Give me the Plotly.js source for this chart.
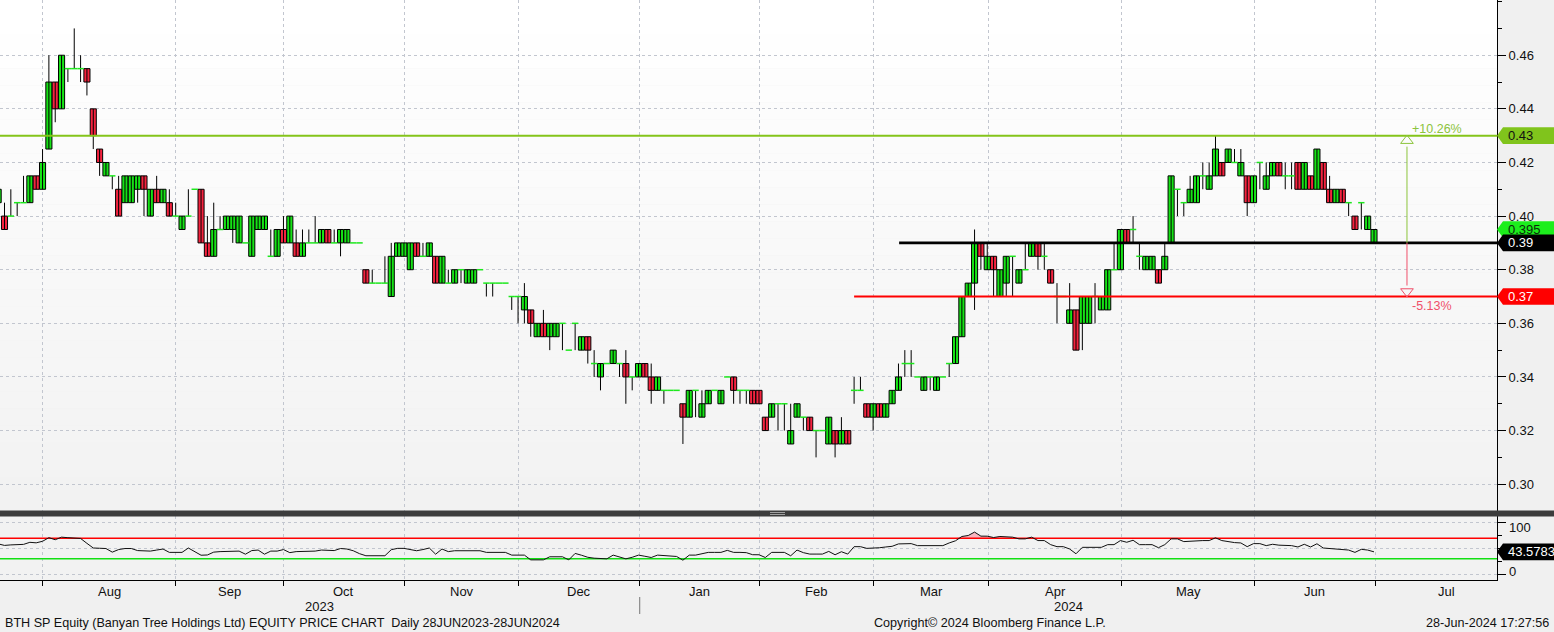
<!DOCTYPE html>
<html><head><meta charset="utf-8">
<script src="https://cdn.plot.ly/plotly-3.0.1.min.js"></script>
<style>html,body{margin:0;padding:0;background:#f0f0f0;overflow:hidden}#chart{width:1554px;height:632px}</style>
</head><body><div id="chart"></div>
<script>
// ---- data (index -1 .. 216, one per trading day) ----
const firstIndex = -1;
const openP = [
.405,.40,.40,.405,.405,.405,.415,.41,.425,.45,
.44,.455,.455,.455,.455,.44,.425,.415,.415,.41,
.405,.405,.41,.415,.40,.41,.405,.405,.40,.395,
.40,.41,.41,.39,.385,.395,.395,.395,.39,.39,
.385,.395,.395,.385,.385,.395,.39,.39,.385,.39,
.39,.39,.395,.39,.39,.39,.39,.39,.38,.375,
.375,.375,.37,.385,.385,.38,.39,.385,.385,.385,
.375,.375,.375,.38,.375,.375,.38,.375,.375,.375,
.375,.37,.37,.365,.365,.355,.36,.355,.355,.36,
.35,.36,.35,.355,.345,.34,.345,.345,.345,.345,
.34,.34,.345,.34,.335,.335,.335,.335,.33,.325,
.335,.325,.33,.335,.33,.34,.34,.335,.335,.335,
.335,.325,.325,.33,.33,.315,.325,.325,.325,.32,
.32,.315,.32,.315,.32,.335,.335,.33,.325,.33,
.325,.33,.335,.345,.345,.34,.335,.34,.335,.34,
.345,.345,.355,.37,.375,.39,.38,.385,.37,.375,
.385,.375,.38,.385,.39,.385,.38,.37,.37,.36,
.365,.36,.36,.37,.365,.365,.38,.38,.395,.395,
.385,.38,.38,.38,.38,.39,.41,.405,.405,.405,
.415,.41,.415,.42,.42,.42,.415,.415,.405,.42,
.41,.415,.42,.415,.415,.42,.41,.415,.41,.42,
.41,.405,.41,.405,.40,.405,.395,.39];
const highP = [
.41,.405,.41,.405,.415,.415,.415,.425,.46,.45,
.46,.455,.47,.46,.455,.44,.425,.42,.415,.415,
.415,.415,.415,.415,.41,.415,.41,.41,.405,.40,
.41,.41,.41,.40,.405,.40,.40,.40,.40,.39,
.40,.40,.40,.395,.395,.40,.40,.395,.395,.395,
.40,.395,.395,.395,.395,.395,.39,.39,.38,.38,
.375,.385,.39,.39,.39,.39,.39,.39,.39,.385,
.385,.38,.38,.38,.38,.38,.38,.375,.375,.375,
.375,.37,.37,.375,.365,.36,.365,.36,.36,.36,
.35,.36,.355,.355,.35,.345,.345,.35,.345,.35,
.34,.345,.345,.345,.34,.335,.335,.335,.33,.335,
.335,.335,.335,.335,.335,.34,.34,.335,.335,.335,
.335,.325,.33,.33,.33,.33,.33,.325,.325,.32,
.32,.325,.32,.325,.32,.34,.34,.33,.33,.33,
.33,.335,.345,.35,.35,.34,.34,.34,.34,.34,
.345,.355,.37,.375,.395,.39,.39,.385,.38,.385,
.385,.38,.39,.39,.39,.39,.38,.375,.37,.375,
.365,.37,.37,.375,.37,.38,.39,.395,.395,.40,
.39,.385,.385,.38,.39,.415,.41,.405,.415,.415,
.42,.42,.43,.42,.425,.425,.425,.415,.415,.42,
.42,.42,.42,.42,.42,.42,.42,.415,.425,.42,
.415,.41,.41,.405,.40,.405,.40,.395];
const lowP = [
.405,.395,.40,.40,.405,.405,.41,.41,.425,.435,
.44,.45,.455,.45,.445,.425,.415,.415,.41,.40,
.405,.405,.405,.40,.40,.405,.405,.40,.40,.395,
.40,.41,.39,.385,.385,.395,.395,.39,.39,.39,
.385,.395,.395,.385,.385,.39,.39,.385,.385,.39,
.39,.39,.39,.39,.385,.39,.39,.39,.375,.375,
.375,.375,.37,.385,.385,.38,.385,.385,.385,.375,
.375,.375,.375,.375,.375,.375,.38,.37,.37,.375,
.375,.365,.36,.36,.355,.355,.355,.35,.355,.35,
.35,.35,.35,.345,.34,.335,.345,.345,.34,.33,
.335,.34,.34,.33,.335,.33,.335,.335,.315,.325,
.325,.325,.33,.335,.33,.34,.33,.33,.33,.33,
.33,.32,.325,.32,.32,.315,.325,.32,.32,.31,
.32,.315,.31,.315,.315,.33,.335,.325,.32,.325,
.325,.33,.335,.34,.34,.34,.335,.335,.335,.34,
.34,.345,.355,.37,.365,.38,.38,.37,.37,.37,
.37,.375,.38,.385,.38,.38,.375,.36,.37,.36,
.35,.35,.36,.36,.365,.365,.38,.38,.39,.39,
.38,.38,.38,.375,.38,.39,.40,.40,.405,.405,
.41,.41,.415,.415,.42,.42,.415,.40,.405,.41,
.41,.415,.415,.41,.41,.41,.41,.41,.41,.41,
.405,.405,.405,.40,.395,.395,.395,.39];
const closeP = [
.41,.395,.40,.405,.405,.415,.41,.42,.45,.44,
.46,.455,.455,.455,.45,.43,.42,.42,.415,.40,
.415,.415,.415,.41,.41,.405,.41,.40,.40,.40,
.40,.41,.39,.385,.395,.395,.40,.40,.40,.39,
.40,.40,.40,.385,.395,.39,.40,.385,.39,.39,
.39,.395,.39,.39,.395,.395,.39,.39,.375,.375,
.375,.375,.385,.39,.39,.39,.385,.385,.39,.375,
.385,.375,.38,.38,.38,.38,.38,.375,.375,.375,
.375,.37,.37,.37,.36,.36,.355,.36,.36,.36,
.35,.36,.355,.35,.345,.345,.345,.35,.345,.34,
.34,.345,.34,.335,.34,.335,.335,.335,.325,.335,
.335,.33,.335,.335,.335,.34,.335,.335,.335,.33,
.33,.32,.33,.33,.33,.32,.33,.325,.32,.32,
.32,.325,.315,.32,.315,.335,.335,.325,.33,.325,
.33,.335,.34,.345,.345,.34,.34,.34,.34,.34,
.345,.355,.37,.375,.39,.385,.385,.38,.38,.385,
.385,.38,.38,.39,.385,.385,.375,.37,.37,.365,
.35,.37,.37,.37,.37,.38,.38,.395,.39,.395,
.385,.385,.385,.375,.385,.415,.41,.405,.41,.415,
.415,.415,.425,.415,.425,.42,.42,.405,.415,.42,
.415,.42,.415,.415,.415,.41,.42,.41,.425,.41,
.405,.41,.405,.405,.395,.405,.40,.395];
const rsi = [
59,56,57,57.5,58,62,61,64,71,67,
72,71,70,69.5,60,51,50.5,50,43,48,
50,50,46,45.5,45,47,49,42.5,42.5,42.5,
51,44,37,37.5,43,44,44,44,45,39,
46,47,39,45,45,48,42,44,44.5,44.5,
45,47,46,46,50,49,45.7,40,36,36,
36,36,47.7,50.3,50.3,48,45.7,48,51,39,
49,44,45.7,45.7,45.7,45.7,45.7,42.5,42.5,42.5,
42.5,37.2,37.2,37.2,28,28,28,34,34,34,
28,40.5,37,33,31.3,30.5,30,37.2,33,30,
33,37.2,35,32.6,37.2,36,35,34.6,27.4,37.2,
37.2,40,42.5,42.5,42.5,46.4,42.5,42.5,42,38,
37.9,32.6,42.5,42.5,42.5,35.9,47,42,39.2,39.2,
39.2,44.4,37.9,43.8,39.2,53.6,53.6,50.3,50.3,51.5,
53,54.3,58.9,59.2,59.5,55.6,55.6,55.6,55.6,55.6,
60.8,65,73.3,75.2,81.8,74,73.9,71.3,73.3,73,
72,68.7,68.7,72,65.4,65.4,57.5,53.6,53.6,49,
39.8,52.3,52.3,52.3,52.3,57.5,57.5,65.4,62.1,66,
57.5,57.5,57.5,51.6,57.5,68.7,68.7,63.4,64.5,65.4,
65.4,65.4,70.7,65.4,63,61.5,60.8,53.6,59.5,59.5,
55.6,58.2,56.5,55.6,55.6,53,58.2,53,59.2,51,
50.3,48.5,47.7,47,42.5,48.4,47,43.5783];

const monthTicks  = [6.03,27,43.97,63.06,81.1,100.19,119.05,137.04,155.24,176.21,197.13,216.21,238.8];
const monthLabels = ['Aug','Sep','Oct','Nov','Dec','Jan','Feb','Mar','Apr','May','Jun','Jul'];
const yearLabels  = ['2023','2024'];
const yearBreak   = 100.19;
const priceTicks  = [0.30,0.32,0.34,0.36,0.38,0.40,0.42,0.44,0.46];
const rsiTicks    = [0,50,100];
const rsiTickText = ['0','','100'];
const resistance = 0.43, pivot = 0.39, support = 0.37;
const pivotStart = 141.1, supportStart = 134, measureAt = 221.2;
const lastClose = closeP[closeP.length-1];
const lastRsi = rsi[rsi.length-1];

// ---- geometry helpers (layout only) ----
const W = 1554, H = 632;
const px = v => v / W, py = v => (H - v) / H;
const xRange = [-0.71, 235.4];
const priceRange = [0.2900, 0.4806];
const rsiRange = [-11, 113];
const xDomEnd = px(1497);
const priceDomain = [py(511), 1];
const rsiDomain = [py(580), py(516)];
const unitPerPx = (xRange[1]-xRange[0]) / 1497;
const pricePerPx = (priceRange[1]-priceRange[0]) / 511;
const rsiPerPx = (rsiRange[1]-rsiRange[0]) / 64;

const xs = openP.map((_, k) => firstIndex + k);
const GREEN = '#16e316', RED = '#f5233f', DOJI = '#1de81d';

// wicks
const wx = [], wy = [];
xs.forEach((x, k) => { wx.push(x, x, null); wy.push(lowP[k], highP[k], null); });
// bodies
const up = {x:[], b:[], h:[]}, dn = {x:[], b:[], h:[]}, dj = {x:[], y:[]};
xs.forEach((x, k) => {
  const o = openP[k], c = closeP[k];
  if (c > o) { up.x.push(x); up.b.push(o); up.h.push(c - o); }
  else if (c < o) { dn.x.push(x); dn.b.push(c); dn.h.push(o - c); }
  else { dj.x.push(x - 0.5, x + 0.5, null); dj.y.push(c, c, null); }
});

const data = [];
data.push({type:'scatter', mode:'lines', x:wx, y:wy, xaxis:'x', yaxis:'y',
  line:{color:'#000', width:1}, hoverinfo:'skip', showlegend:false});
data.push({type:'bar', x:up.x, base:up.b, y:up.h, width:0.96, xaxis:'x', yaxis:'y',
  marker:{color:GREEN, line:{color:'#000', width:1}}, showlegend:false});
data.push({type:'bar', x:dn.x, base:dn.b, y:dn.h, width:0.96, xaxis:'x', yaxis:'y',
  marker:{color:RED, line:{color:'#000', width:1}}, showlegend:false});
data.push({type:'scatter', mode:'lines', x:dj.x, y:dj.y, xaxis:'x', yaxis:'y',
  line:{color:DOJI, width:1.5}, showlegend:false});

// level lines
data.push({type:'scatter', mode:'lines', x:[xRange[0], xRange[1]], y:[resistance, resistance],
  line:{color:'#84c41a', width:2}, showlegend:false});
data.push({type:'scatter', mode:'lines', x:[pivotStart, xRange[1]], y:[pivot, pivot],
  line:{color:'#000', width:2.8}, showlegend:false});
data.push({type:'scatter', mode:'lines', x:[supportStart, xRange[1]], y:[support, support],
  line:{color:'#ff0000', width:2}, showlegend:false});
// measure arrow
data.push({type:'scatter', mode:'lines', x:[measureAt, measureAt], y:[pivot, resistance - 11*pricePerPx],
  line:{color:'#8cc43c', width:1}, showlegend:false});
data.push({type:'scatter', mode:'lines', x:[measureAt, measureAt], y:[pivot, support + 11*pricePerPx],
  line:{color:'#f0506a', width:1}, showlegend:false});
data.push({type:'scatter', mode:'markers', x:[measureAt], y:[resistance - 5*pricePerPx],
  marker:{symbol:'triangle-up-open', size:11, color:'#8cc43c', line:{width:1, color:'#8cc43c'}}, showlegend:false});
data.push({type:'scatter', mode:'markers', x:[measureAt], y:[support + 5*pricePerPx],
  marker:{symbol:'triangle-down-open', size:11, color:'#f0506a', line:{width:1, color:'#f0506a'}}, showlegend:false});

// axis arrow heads
data.push({type:'scatter', mode:'markers', x:priceTicks.map(() => xRange[1] + 3.6*unitPerPx), y:priceTicks,
  xaxis:'x', yaxis:'y', cliponaxis:false, marker:{symbol:'triangle-right', size:7, color:'#000'}, showlegend:false});
data.push({type:'scatter', mode:'markers', x:[xRange[1] + 3.6*unitPerPx, xRange[1] + 3.6*unitPerPx], y:[0, 100],
  xaxis:'x', yaxis:'y2', cliponaxis:false, marker:{symbol:'triangle-right', size:7, color:'#000'}, showlegend:false});

// RSI
const rsiX = xs;
data.push({type:'scatter', mode:'lines', x:rsiX, y:rsiX.map(() => 70), xaxis:'x', yaxis:'y2',
  line:{width:0, color:'rgba(0,0,0,0)'}, showlegend:false, hoverinfo:'skip'});
data.push({type:'scatter', mode:'lines', x:rsiX, y:rsi.map(v => Math.max(v, 70)), xaxis:'x', yaxis:'y2',
  fill:'tonexty', fillcolor:'#f7b7c0', line:{width:0, color:'rgba(0,0,0,0)'}, showlegend:false, hoverinfo:'skip'});
data.push({type:'scatter', mode:'lines', x:rsiX, y:rsiX.map(() => 30), xaxis:'x', yaxis:'y2',
  line:{width:0, color:'rgba(0,0,0,0)'}, showlegend:false, hoverinfo:'skip'});
data.push({type:'scatter', mode:'lines', x:rsiX, y:rsi.map(v => Math.min(v, 30)), xaxis:'x', yaxis:'y2',
  fill:'tonexty', fillcolor:'#b8efb8', line:{width:0, color:'rgba(0,0,0,0)'}, showlegend:false, hoverinfo:'skip'});
data.push({type:'scatter', mode:'lines', x:[xRange[0], xRange[1]], y:[70, 70], xaxis:'x', yaxis:'y2',
  line:{color:'#ff0000', width:1.5}, showlegend:false});
data.push({type:'scatter', mode:'lines', x:[xRange[0], xRange[1]], y:[30, 30], xaxis:'x', yaxis:'y2',
  line:{color:'#12e012', width:1.5}, showlegend:false});
data.push({type:'scatter', mode:'lines', x:rsiX, y:rsi, xaxis:'x', yaxis:'y2',
  line:{color:'#111', width:1}, showlegend:false});

// ---- shapes ----
const shapes = [];
const bands = 30;
for (let b = 0; b < bands; b++) {
  const t = b / (bands - 1);
  const g = Math.round(255 - 13 * t);
  shapes.push({type:'rect', xref:'paper', yref:'paper', layer:'below', line:{width:0},
    x0:0, x1:xDomEnd, y0:1 - (1 - priceDomain[0]) * (b + 1) / bands, y1:1 - (1 - priceDomain[0]) * b / bands,
    fillcolor:`rgb(${g},${g},${g})`});
}
shapes.push({type:'rect', xref:'paper', yref:'paper', layer:'below', line:{width:0},
  x0:0, x1:xDomEnd, y0:rsiDomain[0], y1:rsiDomain[1], fillcolor:'#f2f2f2'});
// separator bar
shapes.push({type:'rect', xref:'paper', yref:'paper', layer:'above', line:{width:0},
  x0:0, x1:1, y0:py(516.5), y1:py(510.5), fillcolor:'#3c3c3c'});
[512.5, 514.5].forEach(v => shapes.push({type:'line', xref:'paper', yref:'paper', layer:'above',
  x0:px(770), x1:px(785), y0:py(v), y1:py(v), line:{color:'#a0a0a0', width:1}}));
// year divider
shapes.push({type:'line', xref:'x', yref:'paper', x0:yearBreak, x1:yearBreak, y0:py(597), y1:py(614),
  line:{color:'#777', width:1}});

// value boxes on the right axis
function box(yc, half, yref, fill) {
  const a = xDomEnd, n = px(1503);
  shapes.push({type:'path', xref:'paper', yref:yref, layer:'above', fillcolor:fill, line:{width:0},
    path:`M ${a},${yc} L ${n},${yc+half} L 1,${yc+half} L 1,${yc-half} L ${n},${yc-half} Z`});
}
box(resistance, 8.3*pricePerPx, 'y', '#80c41c');
box(lastClose, 8.3*pricePerPx, 'y', '#1cee1c');
box(pivot, 8.3*pricePerPx, 'y', '#000000');
box(support, 8.3*pricePerPx, 'y', '#ff0000');
box(lastRsi, 8.3*rsiPerPx, 'y2', '#000000');

// ---- annotations ----
const F = 'Liberation Sans, Arial, sans-serif';
const ann = [];
const lab = (y, yref, text, color) => ann.push({xref:'paper', yref:yref, x:px(1506), y:y, xanchor:'left', yanchor:'middle',
  text:text, showarrow:false, font:{family:F, size:13, color:color}});
lab(resistance, 'y', resistance.toFixed(2), '#111');
lab(lastClose, 'y', lastClose.toFixed(3), '#0c2a0c');
lab(pivot, 'y', pivot.toFixed(2), '#fff');
lab(support, 'y', support.toFixed(2), '#fff');
lab(lastRsi, 'y2', lastRsi.toFixed(4), '#fff');
// RSI scale labels (nudged inside the panel, as in the original)
ann.push({xref:'paper', yref:'paper', x:px(1507), y:py(527), xanchor:'left', yanchor:'middle', showarrow:false,
  text:rsiTickText[2], font:{family:F, size:13, color:'#111'}});
ann.push({xref:'paper', yref:'paper', x:px(1507), y:py(571), xanchor:'left', yanchor:'middle', showarrow:false,
  text:rsiTickText[0], font:{family:F, size:13, color:'#111'}});

const upPct = ((resistance / pivot - 1) * 100).toFixed(2);
const dnPct = ((support / pivot - 1) * 100).toFixed(2);
ann.push({x:measureAt + 0.4, y:resistance + 7*pricePerPx, xref:'x', yref:'y', xanchor:'left', yanchor:'middle',
  text:'+' + upPct + '%', showarrow:false, font:{family:F, size:12.5, color:'#8cc43c'}});
ann.push({x:measureAt + 0.4, y:support - 9*pricePerPx, xref:'x', yref:'y', xanchor:'left', yanchor:'middle',
  text:dnPct + '%', showarrow:false, font:{family:F, size:12.5, color:'#f0506a'}});

monthLabels.forEach((m, k) => ann.push({xref:'x', yref:'paper', x:(monthTicks[k] + monthTicks[k+1]) / 2, y:py(591),
  xanchor:'center', yanchor:'middle', text:m, showarrow:false, font:{family:F, size:13, color:'#111'}}));
const yearCenters = [(xRange[0] + yearBreak) / 2, (yearBreak + xRange[1]) / 2];
yearLabels.forEach((t, k) => ann.push({xref:'x', yref:'paper', x:yearCenters[k], y:py(606),
  xanchor:'center', yanchor:'middle', text:t, showarrow:false, font:{family:F, size:13, color:'#111'}}));
ann.push({xref:'paper', yref:'paper', x:px(3), y:py(623), xanchor:'left', yanchor:'middle', showarrow:false,
  text:'BTH SP Equity (Banyan Tree Holdings Ltd) EQUITY PRICE CHART  Daily 28JUN2023-28JUN2024',
  font:{family:F, size:12.6, color:'#111'}});
ann.push({xref:'paper', yref:'paper', x:px(990), y:py(623), xanchor:'center', yanchor:'middle', showarrow:false,
  text:'Copyright© 2024 Bloomberg Finance L.P.', font:{family:F, size:12.6, color:'#111'}});
ann.push({xref:'paper', yref:'paper', x:px(1551), y:py(623), xanchor:'right', yanchor:'middle', showarrow:false,
  text:'28-Jun-2024 17:27:56', font:{family:F, size:12.6, color:'#111'}});

const grid = {showgrid:true, gridcolor:'#c2c6cf', griddash:'dot', gridwidth:1};
const layout = {
  width:W, height:H, margin:{l:0, r:0, t:0, b:0},
  paper_bgcolor:'#f0f0f0', plot_bgcolor:'rgba(0,0,0,0)',
  barmode:'overlay', showlegend:false, hovermode:false,
  font:{family:F, size:13, color:'#111'},
  xaxis:Object.assign({domain:[0, xDomEnd], range:xRange, anchor:'y2', showline:true, linecolor:'#000', linewidth:1,
    tickmode:'array', tickvals:monthTicks, ticks:'outside', ticklen:5, tickcolor:'#000',
    showticklabels:false, zeroline:false, fixedrange:true}, grid),
  yaxis:Object.assign({domain:priceDomain, range:priceRange, anchor:'x', side:'right', showline:true, linecolor:'#000',
    linewidth:1, tickmode:'array', tickvals:priceTicks, ticktext:priceTicks.map(v => v.toFixed(2)),
    ticks:'outside', ticklen:8, tickcolor:'#000', zeroline:false,
    minor:{tickmode:'linear', tick0:0.29, dtick:0.01, ticks:'outside', ticklen:4, tickcolor:'#000', showgrid:false},
    tickfont:{family:F, size:13, color:'#111'}}, grid),
  yaxis2:Object.assign({domain:rsiDomain, range:rsiRange, anchor:'x', side:'right', showline:true, linecolor:'#000',
    linewidth:1, tickmode:'array', tickvals:rsiTicks, ticktext:['','',''],
    ticks:'outside', ticklen:8, tickcolor:'#000', zeroline:false,
    minor:{tickmode:'linear', tick0:0, dtick:25, ticks:'outside', ticklen:4, tickcolor:'#000', showgrid:false},
    tickfont:{family:F, size:13, color:'#111'}}, grid),
  shapes:shapes, annotations:ann
};
Plotly.newPlot('chart', data, layout, {displayModeBar:false, staticPlot:true});
</script>
</body></html>
